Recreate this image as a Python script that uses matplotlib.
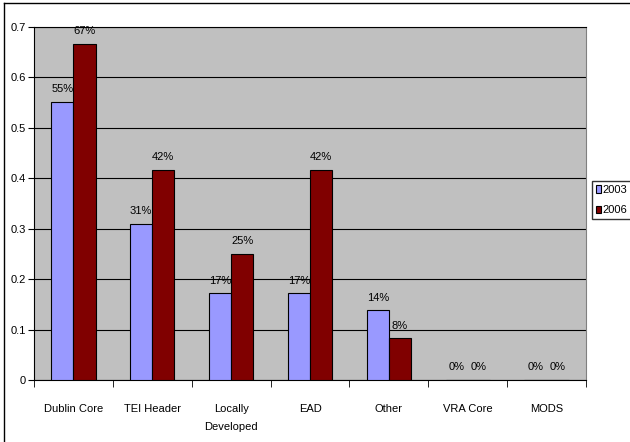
import matplotlib.pyplot as plt
import numpy as np
from matplotlib.lines import Line2D

plt.rcParams['font.family'] = ['Liberation Sans', 'DejaVu Sans']

categories = ["Dublin Core", "TEI Header", "Locally\nDeveloped", "EAD", "Other", "VRA Core", "MODS"]
years = ["2003", "2006"]
vals_2003 = [0.552, 0.310, 0.172, 0.172, 0.138, 0.0, 0.0]
vals_2006 = [0.667, 0.417, 0.250, 0.417, 0.083, 0.0, 0.0]
colors = ["#9999FF", "#800000"]

fig = plt.figure(figsize=(6.3, 4.42), dpi=100)
# plot area in pixels: x 34..586, y 27..380
ax = fig.add_axes([34 / 630, 1 - 380 / 442, 552 / 630, 353 / 442])
ax.set_facecolor("#C0C0C0")

x = np.arange(len(categories))
w = 0.28
series = [vals_2003, vals_2006]
for i, vals in enumerate(series):
    pos = x + (i - 0.5) * w
    bars = ax.bar(pos, vals, w, color=colors[i], edgecolor="black", linewidth=0.8,
                  label=years[i], zorder=3)
    for b, v in zip(bars, vals):
        ax.annotate(f"{v * 100:.0f}%", (b.get_x() + b.get_width() / 2, v),
                    xytext=(0, 5.5), textcoords="offset points",
                    ha="center", va="bottom", fontsize=8, zorder=4)

ax.set_xlim(-0.5, len(categories) - 0.5)
ax.set_ylim(0, 0.7)
ax.set_yticks(np.arange(0, 0.71, 0.1))
ax.set_yticklabels(["0", "0.1", "0.2", "0.3", "0.4", "0.5", "0.6", "0.7"])
ax.yaxis.grid(True, color="black", linewidth=0.8, zorder=1)
ax.set_axisbelow(True)

ax.set_xticks(x)
ax.set_xticklabels(categories, linespacing=2.1)
ax.set_xticks(np.arange(-0.5, len(categories)), minor=True)
ax.tick_params(axis="x", which="major", length=0, pad=17, labelsize=8)
ax.tick_params(axis="x", which="minor", length=5, direction="out")
ax.tick_params(axis="y", length=4, direction="out", labelsize=8, pad=2)

ax.spines["left"].set_color("black")
ax.spines["bottom"].set_color("black")
ax.spines["top"].set_color("black")
ax.spines["right"].set_color("#808080")

fig.legend(loc="upper left", bbox_to_anchor=(592 / 630, 1 - 181 / 442),
           frameon=True, fancybox=False, edgecolor="black", fontsize=8,
           handlelength=0.45, handleheight=0.6, handletextpad=0.15,
           borderpad=0.35, borderaxespad=0, labelspacing=0.95)

# outer chart border (right and bottom edges fall outside the image)
fig.add_artist(Line2D([4 / 630, 4 / 630], [0, 1 - 3 / 442], color="black", linewidth=1))
fig.add_artist(Line2D([4 / 630, 1], [1 - 3 / 442, 1 - 3 / 442], color="black", linewidth=1))

fig.savefig("out.png", dpi=100)
